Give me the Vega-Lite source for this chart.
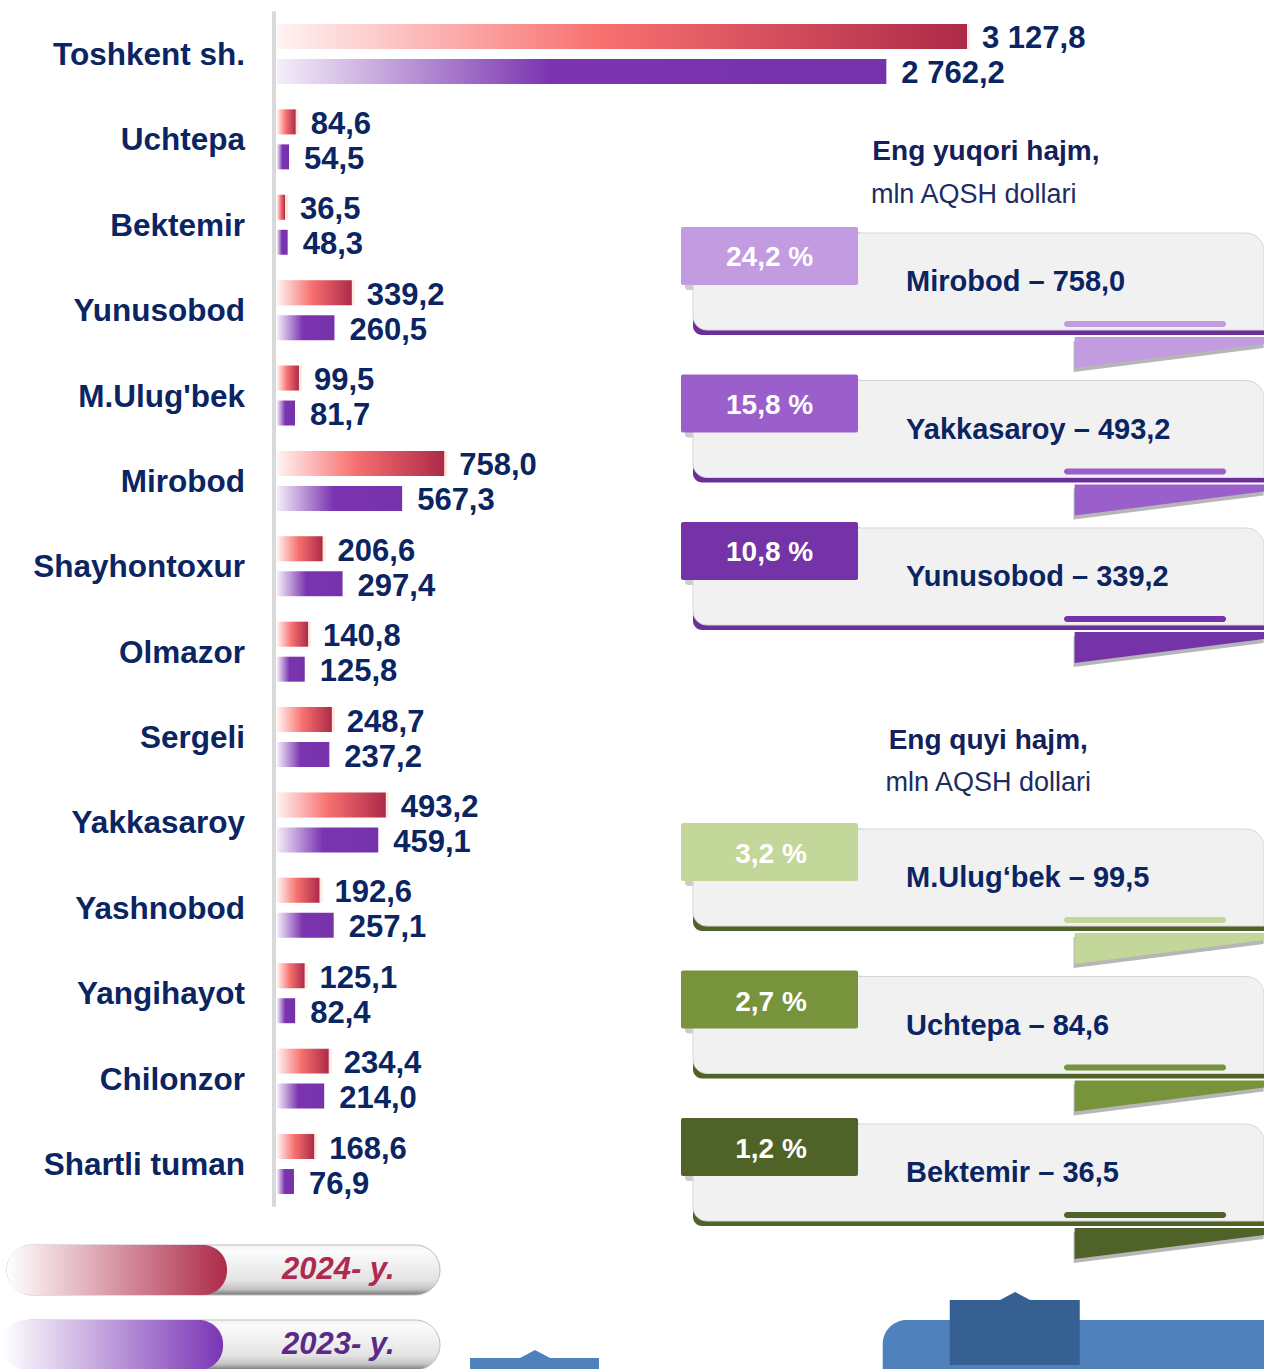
{
"$schema":"https://vega.github.io/schema/vega-lite/v6.json",
"width":1264,"height":1369,"padding":0,"autosize":{"type":"none"},
"background":"#ffffff",
"config":{"view":{"stroke":null},"text":{"font":"Liberation Sans"}},
"datasets":{
"bars":[
{"district":"Toshkent sh.","year":"2024","value":3127.8,"label":"3 127,8"},
{"district":"Toshkent sh.","year":"2023","value":2762.2,"label":"2 762,2"},
{"district":"Uchtepa","year":"2024","value":84.6,"label":"84,6"},
{"district":"Uchtepa","year":"2023","value":54.5,"label":"54,5"},
{"district":"Bektemir","year":"2024","value":36.5,"label":"36,5"},
{"district":"Bektemir","year":"2023","value":48.3,"label":"48,3"},
{"district":"Yunusobod","year":"2024","value":339.2,"label":"339,2"},
{"district":"Yunusobod","year":"2023","value":260.5,"label":"260,5"},
{"district":"M.Ulug'bek","year":"2024","value":99.5,"label":"99,5"},
{"district":"M.Ulug'bek","year":"2023","value":81.7,"label":"81,7"},
{"district":"Mirobod","year":"2024","value":758.0,"label":"758,0"},
{"district":"Mirobod","year":"2023","value":567.3,"label":"567,3"},
{"district":"Shayhontoxur","year":"2024","value":206.6,"label":"206,6"},
{"district":"Shayhontoxur","year":"2023","value":297.4,"label":"297,4"},
{"district":"Olmazor","year":"2024","value":140.8,"label":"140,8"},
{"district":"Olmazor","year":"2023","value":125.8,"label":"125,8"},
{"district":"Sergeli","year":"2024","value":248.7,"label":"248,7"},
{"district":"Sergeli","year":"2023","value":237.2,"label":"237,2"},
{"district":"Yakkasaroy","year":"2024","value":493.2,"label":"493,2"},
{"district":"Yakkasaroy","year":"2023","value":459.1,"label":"459,1"},
{"district":"Yashnobod","year":"2024","value":192.6,"label":"192,6"},
{"district":"Yashnobod","year":"2023","value":257.1,"label":"257,1"},
{"district":"Yangihayot","year":"2024","value":125.1,"label":"125,1"},
{"district":"Yangihayot","year":"2023","value":82.4,"label":"82,4"},
{"district":"Chilonzor","year":"2024","value":234.4,"label":"234,4"},
{"district":"Chilonzor","year":"2023","value":214.0,"label":"214,0"},
{"district":"Shartli tuman","year":"2024","value":168.6,"label":"168,6"},
{"district":"Shartli tuman","year":"2023","value":76.9,"label":"76,9"}
],
"cards":[
{"group":"top","key":"t1","rank":1,"pct":"24,2 %","label":"Mirobod – 758,0"},
{"group":"top","key":"t2","rank":2,"pct":"15,8 %","label":"Yakkasaroy – 493,2"},
{"group":"top","key":"t3","rank":3,"pct":"10,8 %","label":"Yunusobod – 339,2"},
{"group":"bottom","key":"b1","rank":1,"pct":"3,2 %","label":"M.Ulug‘bek – 99,5"},
{"group":"bottom","key":"b2","rank":2,"pct":"2,7 %","label":"Uchtepa – 84,6"},
{"group":"bottom","key":"b3","rank":3,"pct":"1,2 %","label":"Bektemir – 36,5"}
],
"titles":[
{"group":"top","title":"Eng yuqori hajm,","unit":"mln AQSH dollari"},
{"group":"bottom","title":"Eng quyi hajm,","unit":"mln AQSH dollari"}
],
"legend":[
{"year":"2024","label":"2024- y."},
{"year":"2023","label":"2023- y."}
]
},
"resolve":{"scale":{"x":"independent","y":"independent","color":"independent"}},
"layer":[
{
"layer":[
{"data":{"name":"bars"},"transform":[{"filter":"datum.district === 'Toshkent sh.' && datum.year === '2024'"}],
 "mark":{"type":"rule","color":"#d9d9d9","strokeWidth":4,"xOffset":-3,"yOffset":-42.7,"y2Offset":42.7},
 "encoding":{
  "x":{"datum":0,"type":"quantitative","axis":null,"scale":{"domain":[0,3127.8],"range":[277,967],"zero":false,"nice":false}},
  "y":{"datum":"Toshkent sh.","type":"nominal","axis":null,"scale":{"type":"band","domain":["Toshkent sh.","Uchtepa","Bektemir","Yunusobod","M.Ulug'bek","Mirobod","Shayhontoxur","Olmazor","Sergeli","Yakkasaroy","Yashnobod","Yangihayot","Chilonzor","Shartli tuman"],"range":[11.3,1206.7],"paddingInner":0,"paddingOuter":0}},
  "y2":{"datum":"Shartli tuman"}}},
{"data":{"name":"bars"},"transform":[{"filter":"datum.year === '2024'"}],
 "mark":{"type":"bar","color":"#fbd3bd","opacity":0.45,"xOffset":3,"yOffset":3},
 "encoding":{
  "x":{"field":"value","type":"quantitative","axis":null,"scale":{"domain":[0,3127.8],"range":[277,967],"zero":false,"nice":false}},
  "y":{"field":"district","type":"nominal","axis":null,"sort":null,"scale":{"type":"band","domain":["Toshkent sh.","Uchtepa","Bektemir","Yunusobod","M.Ulug'bek","Mirobod","Shayhontoxur","Olmazor","Sergeli","Yakkasaroy","Yashnobod","Yangihayot","Chilonzor","Shartli tuman"],"range":[11.3,1206.7],"paddingInner":0,"paddingOuter":0}},
  "yOffset":{"field":"year","type":"nominal","sort":null,"scale":{"type":"band","domain":["2024","2023"],"paddingInner":0.2857,"paddingOuter":0.363}}}},
{"data":{"name":"bars"},"transform":[{"filter":"datum.year === '2024'"}],
 "mark":{"type":"bar","color":{"gradient":"linear","x1":0,"y1":0,"x2":1,"y2":0,"stops":[{"offset":0,"color":"#fff3f2"},{"offset":0.47,"color":"#f7706f"},{"offset":1,"color":"#ad2a48"}]}},
 "encoding":{
  "x":{"field":"value","type":"quantitative","axis":null},
  "y":{"field":"district","type":"nominal","axis":null,"sort":null},
  "yOffset":{"field":"year","type":"nominal","sort":null}}},
{"data":{"name":"bars"},"transform":[{"filter":"datum.year === '2023'"}],
 "mark":{"type":"bar","color":{"gradient":"linear","x1":0,"y1":0,"x2":1,"y2":0,"stops":[{"offset":0,"color":"#f4eef9"},{"offset":0.45,"color":"#7b34b0"},{"offset":1,"color":"#7532aa"}]}},
 "encoding":{
  "x":{"field":"value","type":"quantitative","axis":null},
  "y":{"field":"district","type":"nominal","axis":null,"sort":null},
  "yOffset":{"field":"year","type":"nominal","sort":null}}},
{"data":{"name":"bars"},
 "mark":{"type":"text","align":"left","baseline":"middle","dx":15,"dy":3,"font":"Liberation Sans","fontSize":31,"fontWeight":"bold","color":"#0b2462"},
 "encoding":{
  "x":{"field":"value","type":"quantitative","axis":null},
  "y":{"field":"district","type":"nominal","axis":null,"sort":null},
  "yOffset":{"field":"year","type":"nominal","sort":null},
  "text":{"field":"label","type":"nominal"}}},
{"data":{"name":"bars"},"transform":[{"filter":"datum.year === '2024'"}],
 "mark":{"type":"text","align":"right","baseline":"middle","dx":-32,"dy":2,"font":"Liberation Sans","fontSize":31.5,"fontWeight":"bold","color":"#0b2462"},
 "encoding":{
  "x":{"datum":0,"type":"quantitative","axis":null},
  "y":{"field":"district","type":"nominal","axis":null,"sort":null},
  "text":{"field":"district","type":"nominal"}}}
]
},
{
"layer":[
{"data":{"name":"cards"},"transform":[{"filter":"datum.group === 'top'"}],
 "mark":{"type":"point","shape":"M -1 -0.163 L 1 -0.163 L 1 -0.09 L -1 0.163 Z","size":36100,"filled":true,"color":"#6e6e6e","opacity":0.5,"strokeWidth":0,"yOffset":129.5,"xOffset":2},
 "encoding":{
  "x":{"datum":83.3,"type":"quantitative","axis":null,"scale":{"domain":[0,100],"range":[681,1264],"zero":false,"nice":false}},
  "y":{"field":"rank","type":"quantitative","axis":null,"scale":{"domain":[1,3],"range":[227,522],"zero":false,"nice":false}}}},
{"data":{"name":"cards"},"transform":[{"filter":"datum.group === 'top'"}],
 "mark":{"type":"point","shape":"M -1 -0.163 L 1 -0.163 L 1 -0.09 L -1 0.163 Z","size":36100,"filled":true,"opacity":1,"strokeWidth":0,"yOffset":125.5,"xOffset":3},
 "encoding":{
  "x":{"datum":83.3,"type":"quantitative","axis":null},
  "y":{"field":"rank","type":"quantitative","axis":null},
  "color":{"field":"key","type":"nominal","legend":null,"scale":{"domain":["t1","t2","t3","b1","b2","b3"],"range":["#c39be0","#9b5fcc","#7434a8","#c4d79b","#77933c","#4f6228"]}}}},
{"data":{"name":"cards"},"transform":[{"filter":"datum.group === 'top'"}],
 "mark":{"type":"rect","color":"#7f7f7f","opacity":0.4,"yOffset":5,"y2Offset":63,"cornerRadius":3},
 "encoding":{
  "x":{"datum":0.7,"type":"quantitative","axis":null},"x2":{"datum":31.0},
  "y":{"field":"rank","type":"quantitative","axis":null},"y2":{"field":"rank"}}},
{"data":{"name":"cards"},"transform":[{"filter":"datum.group === 'top'"}],
 "mark":{"type":"rect","color":"#6b2f99","yOffset":90,"y2Offset":108,"cornerRadiusBottomLeft":16},
 "encoding":{
  "x":{"datum":2.06,"type":"quantitative","axis":null},"x2":{"datum":100},
  "y":{"field":"rank","type":"quantitative","axis":null},"y2":{"field":"rank"}}},
{"data":{"name":"cards"},"transform":[{"filter":"datum.group === 'top'"}],
 "mark":{"type":"rect","fill":"#f1f1f1","stroke":"#d6d6d6","strokeWidth":1,"yOffset":6,"y2Offset":103,"cornerRadiusTopRight":18,"cornerRadiusBottomLeft":14},
 "encoding":{
  "x":{"datum":2.06,"type":"quantitative","axis":null},"x2":{"datum":100},
  "y":{"field":"rank","type":"quantitative","axis":null},"y2":{"field":"rank"}}},
{"data":{"name":"cards"},"transform":[{"filter":"datum.group === 'top'"}],
 "mark":{"type":"rect","yOffset":94,"y2Offset":100,"cornerRadius":3},
 "encoding":{
  "x":{"datum":65.7,"type":"quantitative","axis":null},"x2":{"datum":93.5},
  "y":{"field":"rank","type":"quantitative","axis":null},"y2":{"field":"rank"},
  "color":{"field":"key","type":"nominal","legend":null}}},
{"data":{"name":"cards"},"transform":[{"filter":"datum.group === 'top'"}],
 "mark":{"type":"rect","yOffset":0,"y2Offset":58,"cornerRadius":2},
 "encoding":{
  "x":{"datum":0,"type":"quantitative","axis":null},"x2":{"datum":30.36},
  "y":{"field":"rank","type":"quantitative","axis":null},"y2":{"field":"rank"},
  "color":{"field":"key","type":"nominal","legend":null}}},
{"data":{"name":"cards"},"transform":[{"filter":"datum.group === 'top'"}],
 "mark":{"type":"text","align":"center","baseline":"middle","dy":31,"font":"Liberation Sans","fontSize":28,"fontWeight":"bold","color":"#ffffff"},
 "encoding":{
  "x":{"datum":15.2,"type":"quantitative","axis":null},
  "y":{"field":"rank","type":"quantitative","axis":null},
  "text":{"field":"pct","type":"nominal"}}},
{"data":{"name":"cards"},"transform":[{"filter":"datum.group === 'top'"}],
 "mark":{"type":"text","align":"left","baseline":"middle","dy":55,"font":"Liberation Sans","fontSize":29,"fontWeight":"bold","color":"#0b2462"},
 "encoding":{
  "x":{"datum":38.6,"type":"quantitative","axis":null},
  "y":{"field":"rank","type":"quantitative","axis":null},
  "text":{"field":"label","type":"nominal"}}},
{"data":{"name":"titles"},"transform":[{"filter":"datum.group === 'top'"}],
 "mark":{"type":"text","align":"center","baseline":"middle","dy":-75,"font":"Liberation Sans","fontSize":28,"fontWeight":"bold","color":"#14205a"},
 "encoding":{
  "x":{"datum":52.3,"type":"quantitative","axis":null},
  "y":{"datum":1,"type":"quantitative","axis":null},
  "text":{"field":"title","type":"nominal"}}},
{"data":{"name":"titles"},"transform":[{"filter":"datum.group === 'top'"}],
 "mark":{"type":"text","align":"center","baseline":"middle","dy":-32,"font":"Liberation Sans","fontSize":27,"fontWeight":"normal","color":"#1b2d63"},
 "encoding":{
  "x":{"datum":50.2,"type":"quantitative","axis":null},
  "y":{"datum":1,"type":"quantitative","axis":null},
  "text":{"field":"unit","type":"nominal"}}}
]
},
{
"layer":[
{"data":{"name":"cards"},"transform":[{"filter":"datum.group === 'bottom'"}],
 "mark":{"type":"point","shape":"M -1 -0.163 L 1 -0.163 L 1 -0.09 L -1 0.163 Z","size":36100,"filled":true,"color":"#6e6e6e","opacity":0.5,"strokeWidth":0,"yOffset":129.5,"xOffset":2},
 "encoding":{
  "x":{"datum":83.3,"type":"quantitative","axis":null,"scale":{"domain":[0,100],"range":[681,1264],"zero":false,"nice":false}},
  "y":{"field":"rank","type":"quantitative","axis":null,"scale":{"domain":[1,3],"range":[823,1118],"zero":false,"nice":false}}}},
{"data":{"name":"cards"},"transform":[{"filter":"datum.group === 'bottom'"}],
 "mark":{"type":"point","shape":"M -1 -0.163 L 1 -0.163 L 1 -0.09 L -1 0.163 Z","size":36100,"filled":true,"opacity":1,"strokeWidth":0,"yOffset":125.5,"xOffset":3},
 "encoding":{
  "x":{"datum":83.3,"type":"quantitative","axis":null},
  "y":{"field":"rank","type":"quantitative","axis":null},
  "color":{"field":"key","type":"nominal","legend":null,"scale":{"domain":["t1","t2","t3","b1","b2","b3"],"range":["#c39be0","#9b5fcc","#7434a8","#c4d79b","#77933c","#4f6228"]}}}},
{"data":{"name":"cards"},"transform":[{"filter":"datum.group === 'bottom'"}],
 "mark":{"type":"rect","color":"#7f7f7f","opacity":0.4,"yOffset":5,"y2Offset":63,"cornerRadius":3},
 "encoding":{
  "x":{"datum":0.7,"type":"quantitative","axis":null},"x2":{"datum":31.0},
  "y":{"field":"rank","type":"quantitative","axis":null},"y2":{"field":"rank"}}},
{"data":{"name":"cards"},"transform":[{"filter":"datum.group === 'bottom'"}],
 "mark":{"type":"rect","color":"#4f6228","yOffset":90,"y2Offset":108,"cornerRadiusBottomLeft":16},
 "encoding":{
  "x":{"datum":2.06,"type":"quantitative","axis":null},"x2":{"datum":100},
  "y":{"field":"rank","type":"quantitative","axis":null},"y2":{"field":"rank"}}},
{"data":{"name":"cards"},"transform":[{"filter":"datum.group === 'bottom'"}],
 "mark":{"type":"rect","fill":"#f1f1f1","stroke":"#d6d6d6","strokeWidth":1,"yOffset":6,"y2Offset":103,"cornerRadiusTopRight":18,"cornerRadiusBottomLeft":14},
 "encoding":{
  "x":{"datum":2.06,"type":"quantitative","axis":null},"x2":{"datum":100},
  "y":{"field":"rank","type":"quantitative","axis":null},"y2":{"field":"rank"}}},
{"data":{"name":"cards"},"transform":[{"filter":"datum.group === 'bottom'"}],
 "mark":{"type":"rect","yOffset":94,"y2Offset":100,"cornerRadius":3},
 "encoding":{
  "x":{"datum":65.7,"type":"quantitative","axis":null},"x2":{"datum":93.5},
  "y":{"field":"rank","type":"quantitative","axis":null},"y2":{"field":"rank"},
  "color":{"field":"key","type":"nominal","legend":null}}},
{"data":{"name":"cards"},"transform":[{"filter":"datum.group === 'bottom'"}],
 "mark":{"type":"rect","yOffset":0,"y2Offset":58,"cornerRadius":2},
 "encoding":{
  "x":{"datum":0,"type":"quantitative","axis":null},"x2":{"datum":30.36},
  "y":{"field":"rank","type":"quantitative","axis":null},"y2":{"field":"rank"},
  "color":{"field":"key","type":"nominal","legend":null}}},
{"data":{"name":"cards"},"transform":[{"filter":"datum.group === 'bottom'"}],
 "mark":{"type":"text","align":"center","baseline":"middle","dy":32,"font":"Liberation Sans","fontSize":28,"fontWeight":"bold","color":"#ffffff"},
 "encoding":{
  "x":{"datum":15.44,"type":"quantitative","axis":null},
  "y":{"field":"rank","type":"quantitative","axis":null},
  "text":{"field":"pct","type":"nominal"}}},
{"data":{"name":"cards"},"transform":[{"filter":"datum.group === 'bottom'"}],
 "mark":{"type":"text","align":"left","baseline":"middle","dy":55,"font":"Liberation Sans","fontSize":29,"fontWeight":"bold","color":"#0b2462"},
 "encoding":{
  "x":{"datum":38.6,"type":"quantitative","axis":null},
  "y":{"field":"rank","type":"quantitative","axis":null},
  "text":{"field":"label","type":"nominal"}}},
{"data":{"name":"titles"},"transform":[{"filter":"datum.group === 'bottom'"}],
 "mark":{"type":"text","align":"center","baseline":"middle","dy":-82,"font":"Liberation Sans","fontSize":28,"fontWeight":"bold","color":"#14205a"},
 "encoding":{
  "x":{"datum":52.7,"type":"quantitative","axis":null},
  "y":{"datum":1,"type":"quantitative","axis":null},
  "text":{"field":"title","type":"nominal"}}},
{"data":{"name":"titles"},"transform":[{"filter":"datum.group === 'bottom'"}],
 "mark":{"type":"text","align":"center","baseline":"middle","dy":-40,"font":"Liberation Sans","fontSize":27,"fontWeight":"normal","color":"#1b2d63"},
 "encoding":{
  "x":{"datum":52.7,"type":"quantitative","axis":null},
  "y":{"datum":1,"type":"quantitative","axis":null},
  "text":{"field":"unit","type":"nominal"}}},
{"data":{"name":"cards"},"transform":[{"filter":"datum.key === 'b1'"}],
 "mark":{"type":"rect","color":"#4f81bd"},
 "encoding":{
  "x":{"datum":-36.19,"type":"quantitative","axis":null},"x2":{"datum":-14.07},
  "y":{"datum":4.627,"type":"quantitative","axis":null},"y2":{"datum":4.8}}},
{"data":{"name":"cards"},"transform":[{"filter":"datum.key === 'b1'"}],
 "mark":{"type":"point","shape":"M -1 0.27 L 0 -0.27 L 1 0.27 Z","size":900,"filled":true,"opacity":1,"strokeWidth":0,"color":"#4f81bd"},
 "encoding":{
  "x":{"datum":-25.04,"type":"quantitative","axis":null},
  "y":{"datum":4.6,"type":"quantitative","axis":null}}},
{"data":{"name":"cards"},"transform":[{"filter":"datum.key === 'b1'"}],
 "mark":{"type":"rect","color":"#4f81bd","cornerRadiusTopLeft":24},
 "encoding":{
  "x":{"datum":34.6,"type":"quantitative","axis":null},"x2":{"datum":100},
  "y":{"datum":4.37,"type":"quantitative","axis":null},"y2":{"datum":4.8}}},
{"data":{"name":"cards"},"transform":[{"filter":"datum.key === 'b1'"}],
 "mark":{"type":"rect","color":"#366092"},
 "encoding":{
  "x":{"datum":46.1,"type":"quantitative","axis":null},"x2":{"datum":68.4},
  "y":{"datum":4.234,"type":"quantitative","axis":null},"y2":{"datum":4.675}}},
{"data":{"name":"cards"},"transform":[{"filter":"datum.key === 'b1'"}],
 "mark":{"type":"point","shape":"M -1 0.27 L 0 -0.27 L 1 0.27 Z","size":900,"filled":true,"opacity":1,"strokeWidth":0,"color":"#366092"},
 "encoding":{
  "x":{"datum":57.3,"type":"quantitative","axis":null},
  "y":{"datum":4.207,"type":"quantitative","axis":null}}}
]
},
{
"layer":[
{"data":{"name":"legend"},
 "mark":{"type":"rect","cornerRadius":25,"stroke":"#bdbdbd","strokeWidth":1,"fill":{"gradient":"linear","x1":0,"y1":0,"x2":0,"y2":1,"stops":[{"offset":0,"color":"#f2f2f2"},{"offset":0.12,"color":"#fbfbfb"},{"offset":0.7,"color":"#e4e4e4"},{"offset":0.88,"color":"#c4c4c4"},{"offset":1,"color":"#777777"}]}},
 "encoding":{
  "x":{"datum":0,"type":"quantitative","axis":null,"scale":{"domain":[0,100],"range":[7,440],"zero":false,"nice":false}},"x2":{"datum":100},
  "y":{"field":"year","type":"nominal","axis":null,"sort":null,"scale":{"type":"band","domain":["2024","2023"],"range":[1207.5,1407.5],"paddingInner":0.3333,"paddingOuter":0.5}}}},
{"data":{"name":"legend"},"transform":[{"filter":"datum.year === '2024'"}],
 "mark":{"type":"rect","cornerRadius":24,"fill":{"gradient":"linear","x1":0,"y1":0,"x2":1,"y2":0,"stops":[{"offset":0,"color":"#ffffff"},{"offset":1,"color":"#ad2a48"}]}},
 "encoding":{
  "x":{"datum":0,"type":"quantitative","axis":null},"x2":{"datum":50.8},
  "y":{"field":"year","type":"nominal","axis":null,"sort":null}}},
{"data":{"name":"legend"},"transform":[{"filter":"datum.year === '2023'"}],
 "mark":{"type":"rect","cornerRadius":24,"fill":{"gradient":"linear","x1":0,"y1":0,"x2":1,"y2":0,"stops":[{"offset":0,"color":"#ffffff"},{"offset":1,"color":"#7a35b5"}]}},
 "encoding":{
  "x":{"datum":-1.1,"type":"quantitative","axis":null},"x2":{"datum":49.9},
  "y":{"field":"year","type":"nominal","axis":null,"sort":null}}},
{"data":{"name":"legend"},
 "mark":{"type":"text","align":"center","baseline":"middle","font":"Liberation Sans","fontSize":31,"fontWeight":"bold","fontStyle":"italic"},
 "encoding":{
  "x":{"datum":76.5,"type":"quantitative","axis":null},
  "y":{"field":"year","type":"nominal","axis":null,"sort":null},
  "text":{"field":"label","type":"nominal"},
  "color":{"field":"year","type":"nominal","legend":null,"scale":{"domain":["2024","2023"],"range":["#ae2a4f","#5a2a88"]}}}}
]
}
]
}
